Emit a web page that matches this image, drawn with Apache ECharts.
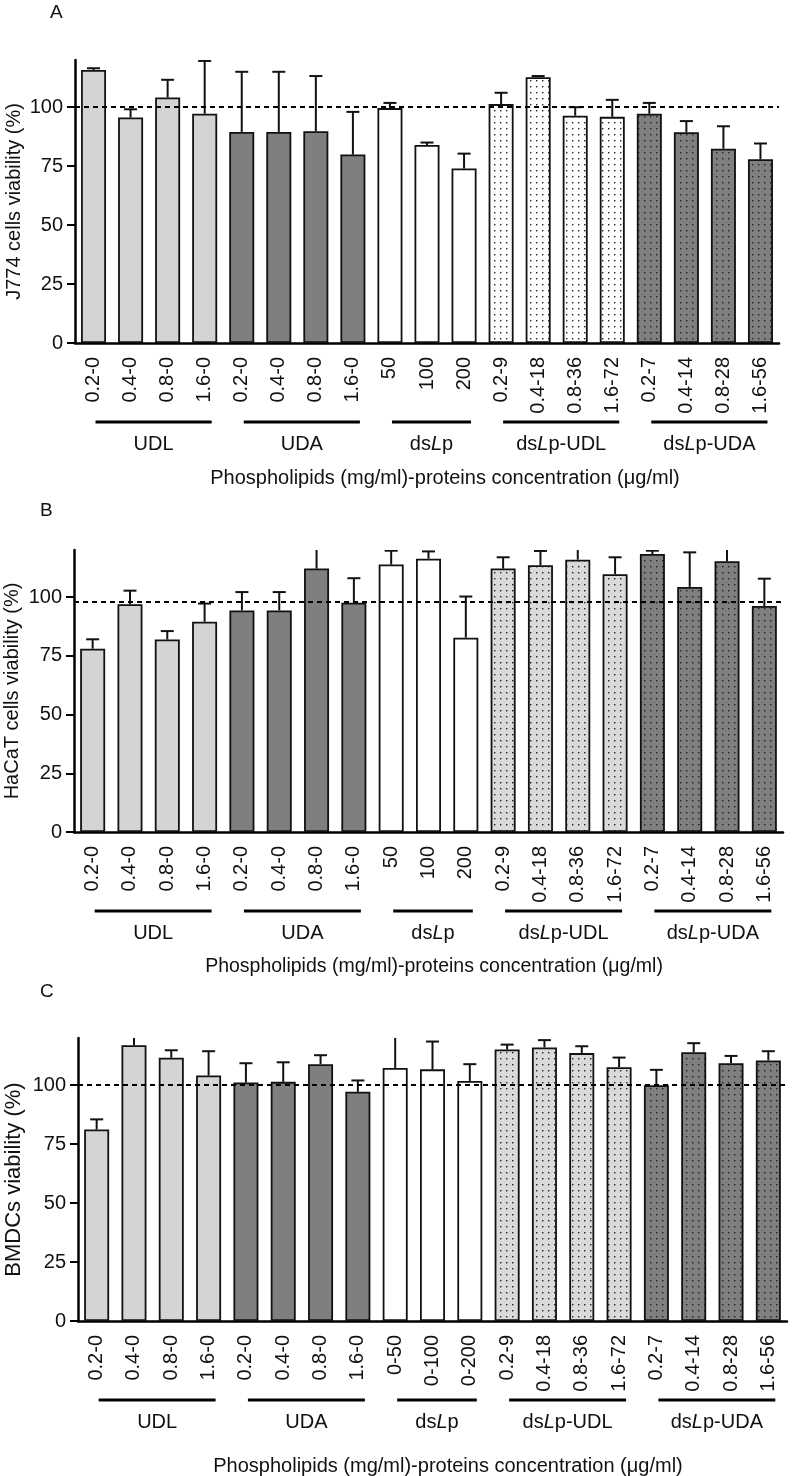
<!DOCTYPE html>
<html><head><meta charset="utf-8">
<script src="https://cdn.jsdelivr.net/npm/echarts@6/dist/echarts.min.js"></script>
<style>html,body{margin:0;padding:0;background:#fff}#c{width:793px;height:1476px}</style>
</head><body><div id="c"></div>
<script>
// ---------- data ----------
const catsAB = ['0.2-0','0.4-0','0.8-0','1.6-0','0.2-0','0.4-0','0.8-0','1.6-0','50','100','200','0.2-9','0.4-18','0.8-36','1.6-72','0.2-7','0.4-14','0.8-28','1.6-56'];
const catsC  = ['0.2-0','0.4-0','0.8-0','1.6-0','0.2-0','0.4-0','0.8-0','1.6-0','0-50','0-100','0-200','0.2-9','0.4-18','0.8-36','1.6-72','0.2-7','0.4-14','0.8-28','1.6-56'];
const groupNames  = ['UDL','UDA','dsLp','dsLp-UDL','dsLp-UDA'];
const groupRanges = [[0,3],[4,7],[8,10],[11,14],[15,18]];
const barGroup    = [0,0,0,0,1,1,1,1,2,2,2,3,3,3,3,4,4,4,4];

const valuesA = [115.8,95.6,104.1,97.2,89.5,89.5,89.8,79.9,99.6,84.0,74.0,101.3,112.7,96.4,95.9,97.2,89.4,82.4,77.9];
const upperA  = [116.5,99.1,111.6,119.6,115.0,115.0,113.2,98.0,101.8,85.0,80.3,106.1,113.2,100.0,103.1,101.8,94.1,91.9,84.6];
const valuesB = [78.0,96.9,81.9,89.5,94.3,94.3,112.1,97.6,113.8,116.3,82.7,112.1,113.5,115.9,109.7,118.3,104.3,115.2,96.2];
const upperB  = [82.0,102.7,85.5,97.2,102.1,102.1,123,108.0,119.7,119.4,100.2,116.9,119.6,121,116.9,119.7,119.0,121,107.8];
const valuesC = [81.2,116.9,111.6,104.1,101.1,101.4,108.9,97.2,107.3,106.7,101.8,115.1,116.0,113.6,107.6,100.0,114.0,109.3,110.5];
const upperC  = [85.5,122,114.8,114.4,109.3,109.7,112.7,102.0,122,118.5,108.9,117.2,119.1,116.5,111.7,106.5,117.8,112.4,114.4];
const refLines = [100, 98, 100];
const yTicks = [0,25,50,75,100];
const yTitles = ['J774 cells viability (%)','HaCaT cells viability (%)','BMDCs viability (%)'];
const panelLetters = ['A','B','C'];
const xTitle = 'Phospholipids (mg/ml)-proteins concentration (\u03bcg/ml)';

// ---------- styles ----------
function dots(bg){
  const c=document.createElement('canvas'); c.width=6; c.height=6;
  const g=c.getContext('2d'); g.fillStyle=bg; g.fillRect(0,0,6,6);
  g.fillStyle='#222'; g.fillRect(2,2,1.4,1.4);
  return {image:c, repeat:'repeat'};
}
const LIGHT='#d4d4d4', DARK='#7f7f7f';
const fillsA  = [LIGHT, DARK, '#ffffff', dots('#ffffff'), dots(DARK)];
const fillsBC = [LIGHT, DARK, '#ffffff', dots('#dadada'), dots(DARK)];
const FONT = '"Liberation Sans", Arial, sans-serif';

const grids = [
  {left:75, top:60,   width:704, height:283, outerBoundsMode:'none', containLabel:false},
  {left:74, top:550,  width:709, height:282, outerBoundsMode:'none', containLabel:false},
  {left:78, top:1038, width:709, height:283, outerBoundsMode:'none', containLabel:false}
];
const yNameSize = [20,20,22];
const yNameGap = [51,52,53];

const panels = [
  {cats:catsAB, vals:valuesA, up:upperA, fills:fillsA},
  {cats:catsAB, vals:valuesB, up:upperB, fills:fillsBC},
  {cats:catsC,  vals:valuesC, up:upperC, fills:fillsBC}
];

const xAxis=[], yAxis=[], series=[];
panels.forEach((p,k)=>{
  xAxis.push({type:'category', gridIndex:k, data:p.cats, boundaryGap:true,
    axisLine:{lineStyle:{color:'#000', width:2.5}},
    axisTick:{alignWithLabel:true, length:8, lineStyle:{color:'#000', width:2}},
    axisLabel:{rotate:90, margin:14, color:'#111', fontSize:20, fontFamily:FONT, interval:0}
  });
  yAxis.push({type:'value', gridIndex:k, min:0, max:120, interval:25,
    name:yTitles[k], nameLocation:'middle', nameGap:yNameGap[k], nameMoveOverlap:false,
    nameTextStyle:{color:'#111', fontSize:yNameSize[k], fontFamily:FONT},
    splitLine:{show:false},
    axisLine:{show:true, lineStyle:{color:'#000', width:2.5}},
    axisTick:{show:true, length:8, lineStyle:{color:'#000', width:2}, customValues:yTicks},
    axisLabel:{color:'#111', fontSize:20, fontFamily:FONT, margin:12, customValues:yTicks}
  });
  series.push({type:'bar', xAxisIndex:k, yAxisIndex:k, barWidth:25,
    data:p.vals.map((v,i)=>({value:v, itemStyle:{color:p.fills[barGroup[i]], borderColor:'#111', borderWidth:1.8}})),
    markLine:{silent:true, symbol:'none', label:{show:false},
      lineStyle:{color:'#000', type:[5,4], width:2},
      data:[{yAxis:refLines[k]}]},
    z:2
  });
  series.push({type:'custom', xAxisIndex:k, yAxisIndex:k, clip:true, z:3,
    encode:{x:0, y:1},
    data:p.vals.map((v,i)=>[i, p.up[i], v]),
    renderItem:(params, api)=>{
      const top=api.coord([api.value(0), api.value(1)]);
      const base=api.coord([api.value(0), api.value(2)]);
      return {type:'group', children:[
        {type:'line', shape:{x1:top[0],y1:base[1],x2:top[0],y2:top[1]}, style:{stroke:'#111', lineWidth:2}},
        {type:'line', shape:{x1:top[0]-6.5,y1:top[1],x2:top[0]+6.5,y2:top[1]}, style:{stroke:'#111', lineWidth:2}}
      ]};
    }
  });
  series.push({type:'custom', xAxisIndex:k, yAxisIndex:k, clip:false, silent:true, z:3,
    encode:{x:0, y:1},
    data:groupRanges.map((r,i)=>[r[0], 0, r[1], i]),
    renderItem:(params, api)=>{
      const a=api.coord([api.value(0), 0]);
      const b=api.coord([api.value(2), 0]);
      const x0=a[0]+2, x1=b[0]+7, y=a[1]+79;
      const name=groupNames[api.value(3)];
      const txt=name.replace('dsLp','{n|ds}{i|L}{n|p}').replace(/-(UD[LA])$/,'{n|-$1}');
      const t = name.indexOf('dsLp')===0 ? txt : '{n|'+name+'}';
      return {type:'group', children:[
        {type:'line', shape:{x1:x0,y1:y,x2:x1,y2:y}, style:{stroke:'#000', lineWidth:3}},
        {type:'text', x:(x0+x1)/2, y:y+22, style:{text:t, align:'center', verticalAlign:'middle',
          rich:{n:{fontSize:20, fontFamily:FONT, fill:'#111'}, i:{fontSize:20, fontFamily:FONT, fontStyle:'italic', fill:'#111'}}}}
      ]};
    }
  });
});

const graphic = [
  {type:'text', left:50, top:3, style:{text:'A', fontSize:19, fontFamily:FONT, fill:'#111'}},
  {type:'text', left:40, top:501, style:{text:'B', fontSize:19, fontFamily:FONT, fill:'#111'}},
  {type:'text', left:40, top:982, style:{text:'C', fontSize:19, fontFamily:FONT, fill:'#111'}},
  {type:'text', x:445, y:478, style:{text:xTitle, fontSize:20, fontFamily:FONT, fill:'#111', align:'center', verticalAlign:'middle'}},
  {type:'text', x:434, y:967, style:{text:xTitle, fontSize:19.5, fontFamily:FONT, fill:'#111', align:'center', verticalAlign:'middle'}},
  {type:'text', x:448, y:1466, style:{text:xTitle, fontSize:20, fontFamily:FONT, fill:'#111', align:'center', verticalAlign:'middle'}}
];

const chart = echarts.init(document.getElementById('c'), null, {renderer:'canvas'});
chart.setOption({animation:false, backgroundColor:'#fff', grid:grids, xAxis, yAxis, series, graphic});
</script></body></html>
